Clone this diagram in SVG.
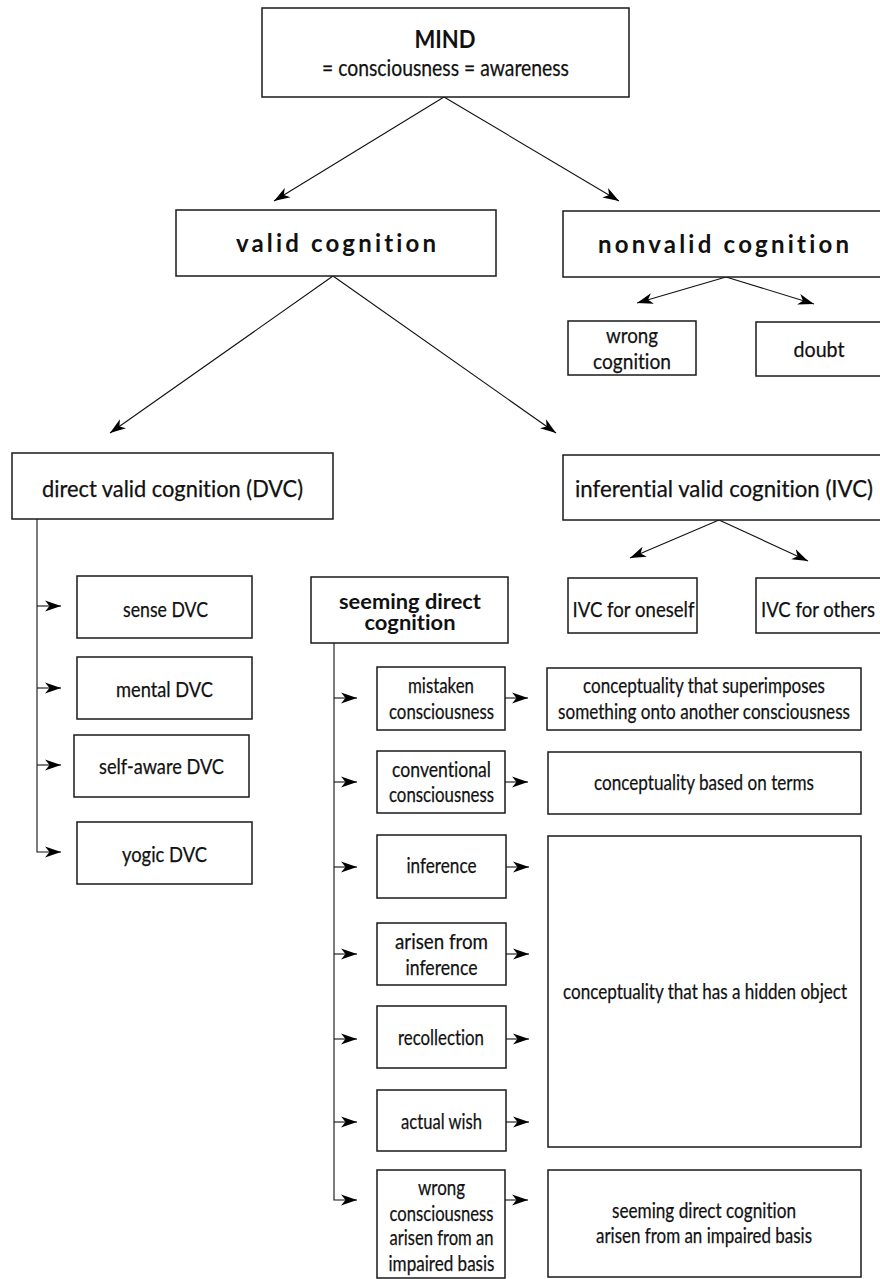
<svg xmlns="http://www.w3.org/2000/svg" width="880" height="1279" viewBox="0 0 880 1279">
<style>
.box{fill:#fff;stroke:#1a1a1a;stroke-width:1.5}
.t{font-family:Lato,"Open Sans","Liberation Sans",sans-serif;font-size:22px;fill:#111;text-anchor:middle;font-variant-ligatures:none;stroke:#111;stroke-width:0.25}
.b{font-weight:bold;stroke-width:0}
.h{font-size:24px}
.m{font-size:23px}
.s{font-size:20px}
.c{fill:none;stroke:#111;stroke-width:1.1}
</style>
<defs>
<marker id="ah" markerUnits="userSpaceOnUse" markerWidth="17" markerHeight="12" refX="16" refY="6" orient="auto" viewBox="0 0 17 12">
<path d="M0,0.5 L16,6 L0,11.5 L4.5,6 Z" fill="#000"/>
</marker>
</defs>
<rect width="880" height="1279" fill="#fff"/>
<g id="connectors">
<line class="c" x1="444" y1="97" x2="274" y2="201" marker-end="url(#ah)"/>
<line class="c" x1="444" y1="97" x2="619" y2="201" marker-end="url(#ah)"/>
<line class="c" x1="333" y1="276" x2="110" y2="433" marker-end="url(#ah)"/>
<line class="c" x1="333" y1="276" x2="556" y2="433" marker-end="url(#ah)"/>
<line class="c" x1="726" y1="277" x2="637" y2="303" marker-end="url(#ah)"/>
<line class="c" x1="726" y1="277" x2="814" y2="304" marker-end="url(#ah)"/>
<line class="c" x1="719" y1="520" x2="630" y2="558" marker-end="url(#ah)"/>
<line class="c" x1="719" y1="520" x2="808" y2="561" marker-end="url(#ah)"/>
<path class="c" d="M37,519 V852 H61" marker-end="url(#ah)"/>
<line class="c" x1="37" y1="606" x2="61" y2="606" marker-end="url(#ah)"/>
<line class="c" x1="37" y1="688" x2="61" y2="688" marker-end="url(#ah)"/>
<line class="c" x1="37" y1="765" x2="61" y2="765" marker-end="url(#ah)"/>
<path class="c" d="M334,643 V1200 H357" marker-end="url(#ah)"/>
<line class="c" x1="334" y1="698" x2="357" y2="698" marker-end="url(#ah)"/>
<line class="c" x1="334" y1="782" x2="357" y2="782" marker-end="url(#ah)"/>
<line class="c" x1="334" y1="867" x2="357" y2="867" marker-end="url(#ah)"/>
<line class="c" x1="334" y1="954" x2="357" y2="954" marker-end="url(#ah)"/>
<line class="c" x1="334" y1="1039" x2="357" y2="1039" marker-end="url(#ah)"/>
<line class="c" x1="334" y1="1122" x2="357" y2="1122" marker-end="url(#ah)"/>
<line class="c" x1="505" y1="698" x2="528" y2="698" marker-end="url(#ah)"/>
<line class="c" x1="505" y1="782" x2="528" y2="782" marker-end="url(#ah)"/>
<line class="c" x1="506" y1="867" x2="529" y2="867" marker-end="url(#ah)"/>
<line class="c" x1="506" y1="954" x2="529" y2="954" marker-end="url(#ah)"/>
<line class="c" x1="506" y1="1039" x2="529" y2="1039" marker-end="url(#ah)"/>
<line class="c" x1="506" y1="1122" x2="529" y2="1122" marker-end="url(#ah)"/>
<line class="c" x1="505" y1="1200" x2="528" y2="1200" marker-end="url(#ah)"/>
</g>
<g id="mind">
<rect class="box" x="262" y="8" width="367" height="89"/>
<text class="t b h" x="445" y="48" textLength="61" lengthAdjust="spacingAndGlyphs">MIND</text>
<text class="t m" x="445.5" y="76" textLength="247" lengthAdjust="spacingAndGlyphs">= consciousness = awareness</text>
</g>
<g id="valid">
<rect class="box" x="176" y="210" width="320" height="66"/>
<text class="t b h" x="336" y="252" textLength="200" lengthAdjust="spacing">valid cognition</text>
</g>
<g id="nonvalid">
<rect class="box" x="563" y="211" width="320" height="66"/>
<text class="t b h" x="723.5" y="253" textLength="251" lengthAdjust="spacing">nonvalid cognition</text>
</g>
<g id="wrong-cognition">
<rect class="box" x="568" y="321" width="128" height="54"/>
<text class="t" x="632" y="343" textLength="52" lengthAdjust="spacingAndGlyphs">wrong</text>
<text class="t" x="632" y="369" textLength="78" lengthAdjust="spacingAndGlyphs">cognition</text>
</g>
<g id="doubt">
<rect class="box" x="756" y="322" width="127" height="54"/>
<text class="t" x="819" y="357" textLength="51" lengthAdjust="spacingAndGlyphs">doubt</text>
</g>
<g id="dvc">
<rect class="box" x="12" y="453" width="321" height="66"/>
<text class="t m" x="172.5" y="497" textLength="261" lengthAdjust="spacingAndGlyphs">direct valid cognition (DVC)</text>
</g>
<g id="ivc">
<rect class="box" x="563" y="455" width="320" height="65"/>
<text class="t m" x="724" y="497" textLength="298" lengthAdjust="spacingAndGlyphs">inferential valid cognition (IVC)</text>
</g>
<g id="ivc-oneself">
<rect class="box" x="568" y="578" width="129" height="55"/>
<text class="t" x="633.5" y="617" textLength="122" lengthAdjust="spacingAndGlyphs">IVC for oneself</text>
</g>
<g id="ivc-others">
<rect class="box" x="756" y="578" width="127" height="55"/>
<text class="t" x="818" y="617" textLength="114" lengthAdjust="spacingAndGlyphs">IVC for others</text>
</g>
<g id="sense-dvc">
<rect class="box" x="77" y="576" width="175" height="62"/>
<text class="t" x="165.5" y="617" textLength="85" lengthAdjust="spacingAndGlyphs">sense DVC</text>
</g>
<g id="mental-dvc">
<rect class="box" x="77" y="657" width="175" height="62"/>
<text class="t" x="164.5" y="697" textLength="97" lengthAdjust="spacingAndGlyphs">mental DVC</text>
</g>
<g id="self-aware-dvc">
<rect class="box" x="74" y="735" width="175" height="62"/>
<text class="t" x="161.5" y="774" textLength="125" lengthAdjust="spacingAndGlyphs">self-aware DVC</text>
</g>
<g id="yogic-dvc">
<rect class="box" x="77" y="822" width="175" height="62"/>
<text class="t" x="164.5" y="862" textLength="85" lengthAdjust="spacingAndGlyphs">yogic DVC</text>
</g>
<g id="seeming">
<rect class="box" x="311" y="577" width="197" height="66"/>
<text class="t b s" x="410" y="609" textLength="142" lengthAdjust="spacingAndGlyphs">seeming direct</text>
<text class="t b s" x="410" y="630" textLength="91" lengthAdjust="spacingAndGlyphs">cognition</text>
</g>
<g id="mistaken">
<rect class="box" x="377" y="667" width="128" height="63"/>
<text class="t" x="441" y="693" textLength="66" lengthAdjust="spacingAndGlyphs">mistaken</text>
<text class="t" x="441.5" y="719" textLength="105" lengthAdjust="spacingAndGlyphs">consciousness</text>
</g>
<g id="superimposes">
<rect class="box" x="547" y="668" width="314" height="62"/>
<text class="t" x="704" y="693" textLength="242" lengthAdjust="spacingAndGlyphs">conceptuality that superimposes</text>
<text class="t" x="704" y="719" textLength="292" lengthAdjust="spacingAndGlyphs">something onto another consciousness</text>
</g>
<g id="conventional">
<rect class="box" x="377" y="751" width="128" height="62"/>
<text class="t" x="441.5" y="777" textLength="99" lengthAdjust="spacingAndGlyphs">conventional</text>
<text class="t" x="441.5" y="802" textLength="105" lengthAdjust="spacingAndGlyphs">consciousness</text>
</g>
<g id="terms">
<rect class="box" x="548" y="752" width="313" height="62"/>
<text class="t" x="704" y="790" textLength="220" lengthAdjust="spacingAndGlyphs">conceptuality based on terms</text>
</g>
<g id="inference">
<rect class="box" x="377" y="835" width="129" height="63"/>
<text class="t" x="441.5" y="873" textLength="70" lengthAdjust="spacingAndGlyphs">inference</text>
</g>
<g id="arisen-inference">
<rect class="box" x="377" y="923" width="129" height="62"/>
<text class="t" x="441.5" y="949" textLength="93" lengthAdjust="spacingAndGlyphs">arisen from</text>
<text class="t" x="441.5" y="975" textLength="72" lengthAdjust="spacingAndGlyphs">inference</text>
</g>
<g id="hidden-object">
<rect class="box" x="548" y="836" width="313" height="311"/>
<text class="t" x="705" y="999" textLength="284" lengthAdjust="spacingAndGlyphs">conceptuality that has a hidden object</text>
</g>
<g id="recollection">
<rect class="box" x="377" y="1006" width="129" height="62"/>
<text class="t" x="441" y="1045" textLength="86" lengthAdjust="spacingAndGlyphs">recollection</text>
</g>
<g id="actual-wish">
<rect class="box" x="377" y="1090" width="129" height="61"/>
<text class="t" x="441.5" y="1129" textLength="81" lengthAdjust="spacingAndGlyphs">actual wish</text>
</g>
<g id="wrong-consciousness">
<rect class="box" x="377" y="1170" width="128" height="108"/>
<text class="t" x="441.5" y="1195" textLength="47" lengthAdjust="spacingAndGlyphs">wrong</text>
<text class="t" x="441.5" y="1221" textLength="104" lengthAdjust="spacingAndGlyphs">consciousness</text>
<text class="t" x="441.5" y="1245" textLength="104" lengthAdjust="spacingAndGlyphs">arisen from an</text>
<text class="t" x="441.5" y="1271" textLength="106" lengthAdjust="spacingAndGlyphs">impaired basis</text>
</g>
<g id="impaired-basis">
<rect class="box" x="548" y="1170" width="313" height="107"/>
<text class="t" x="704" y="1218" textLength="184" lengthAdjust="spacingAndGlyphs">seeming direct cognition</text>
<text class="t" x="704" y="1243" textLength="216" lengthAdjust="spacingAndGlyphs">arisen from an impaired basis</text>
</g>
</svg>
